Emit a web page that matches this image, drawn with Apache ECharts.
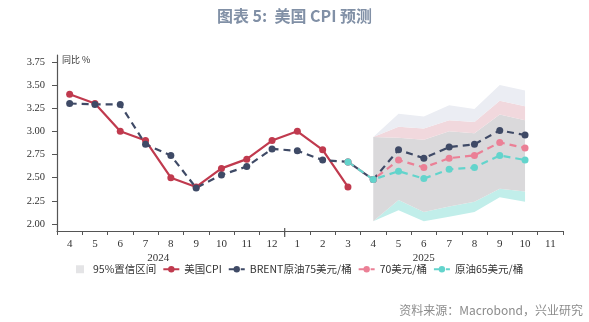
<!DOCTYPE html>
<html>
<head>
<meta charset="utf-8">
<script src="https://cdn.jsdelivr.net/npm/echarts@6/dist/echarts.min.js"></script>
<style>
  html, body { margin: 0; padding: 0; background: #fff; }
  #chart { width: 589px; height: 322px; }
</style>
</head>
<body>
<div id="chart"></div>
<script>
// Month labels: Apr 2024 .. Nov 2025
const months = ['4','5','6','7','8','9','10','11','12','1','2','3','4','5','6','7','8','9','10','11'];
const yTicks = [2.00, 2.25, 2.50, 2.75, 3.00, 3.25, 3.50, 3.75];

// Actual CPI YoY, Apr 2024 .. Mar 2025
const cpiActual = [3.4, 3.3, 3.0, 2.9, 2.5, 2.4, 2.6, 2.7, 2.9, 3.0, 2.8, 2.4];

// Model path with Brent at $75/bbl, Apr 2024 .. Oct 2025
const brent75 = [3.30, 3.29, 3.29, 2.86, 2.74, 2.39, 2.53, 2.62, 2.81, 2.79, 2.69, 2.67,
                 2.48, 2.80, 2.71, 2.83, 2.86, 3.01, 2.96];
// Scenarios at $70 and $65, Mar 2025 .. Oct 2025
const oil70 = [2.67, 2.48, 2.69, 2.61, 2.71, 2.74, 2.88, 2.82];
const oil65 = [2.67, 2.48, 2.57, 2.49, 2.59, 2.61, 2.74, 2.69];

// 95% confidence band edges, Apr 2025 .. Oct 2025
const bandTealLow = [2.03, 2.15, 2.03, 2.08, 2.13, 2.29, 2.24];
const bandGrayLow = [2.03, 2.26, 2.13, 2.19, 2.24, 2.38, 2.35];
const bandGrayTop = [2.94, 2.93, 2.91, 3.00, 2.98, 3.18, 3.12];
const bandPinkTop = [2.94, 3.05, 3.03, 3.12, 3.10, 3.33, 3.27];
const bandLavTop  = [2.94, 3.19, 3.16, 3.28, 3.24, 3.50, 3.44];

const BAND_START = 12;   // index of Apr 2025
const SCEN_START = 11;   // index of Mar 2025

function place(arr, start) {
  const out = months.map(() => '-');
  arr.forEach((v, i) => { out[start + i] = v; });
  return out;
}
function diff(a, b) { return a.map((v, i) => +(v - b[i]).toFixed(4)); }

const C_RED = '#c03a4e', C_NAVY = '#3f4a66', C_PINK = '#eb8096', C_TEAL = '#63d4cc';

function bandSeries(name, values, color) {
  return {
    name: name, type: 'line', stack: 'band', data: place(values, BAND_START),
    symbol: 'none', lineStyle: { width: 0 }, itemStyle: { color: color },
    areaStyle: color ? { color: color, opacity: 1 } : undefined,
    silent: true, z: 1
  };
}

function lineSeries(name, data, color, dashed) {
  return {
    name: name, type: 'line', data: data, color: color,
    symbol: 'circle', symbolSize: 7,
    lineStyle: { width: 2.2, color: color, type: dashed ? [7, 5] : 'solid' },
    itemStyle: { color: color },
    z: 5
  };
}

const chart = echarts.init(document.getElementById('chart'));
const baseFont = 'Liberation Serif';
const cjkFont = '"Noto Sans CJK SC", sans-serif';

chart.setOption({
  animation: false,
  title: {
    text: '图表 5:  美国 CPI 预测',
    left: 'center', top: 3,
    textStyle: { fontFamily: cjkFont, fontSize: 16, fontWeight: 'bold', color: '#8190a6' }
  },
  grid: { left: 57, right: 26, top: 55, bottom: 91, containLabel: false },
  legend: {
    left: 76, top: 264, padding: 0,
    itemWidth: 16, itemHeight: 8, itemGap: 6,
    textStyle: { fontFamily: cjkFont, fontSize: 10.5, color: '#333' },
    data: [
      { name: '95%置信区间', icon: 'path://M0,0h10v10h-10z', itemStyle: { color: '#e4e4e6' } },
      '美国CPI', 'BRENT原油75美元/桶', '70美元/桶', '原油65美元/桶'
    ]
  },
  xAxis: {
    type: 'category', data: months, boundaryGap: true,
    axisLine: { lineStyle: { color: '#555', width: 1.2 } },
    axisTick: { show: true, alignWithLabel: false, length: 4, lineStyle: { color: '#555' } },
    axisLabel: { fontFamily: baseFont, fontSize: 11, color: '#333', margin: 8, interval: 0 },
    splitLine: { show: false }
  },
  yAxis: {
    type: 'value', min: 1.925, max: 3.823,
    axisLine: { show: true, lineStyle: { color: '#555', width: 1.2 } },
    axisTick: { show: true, length: 5, customValues: yTicks, lineStyle: { color: '#555' } },
    axisLabel: {
      fontFamily: baseFont, fontSize: 10.5, color: '#333', margin: 12,
      customValues: yTicks, formatter: v => v.toFixed(2)
    },
    splitLine: { show: false }
  },
  series: [
    bandSeries('bandBase', bandTealLow, null),
    bandSeries('bandTeal', diff(bandGrayLow, bandTealLow), '#c1eeea'),
    bandSeries('95%置信区间', diff(bandGrayTop, bandGrayLow), '#dad9db'),
    bandSeries('bandPink', diff(bandPinkTop, bandGrayTop), '#f1d8dd'),
    bandSeries('bandLav', diff(bandLavTop, bandPinkTop), '#ebedf3'),
    lineSeries('美国CPI', place(cpiActual, 0), C_RED, false),
    lineSeries('BRENT原油75美元/桶', place(brent75, 0), C_NAVY, true),
    lineSeries('70美元/桶', place(oil70, SCEN_START), C_PINK, true),
    lineSeries('原油65美元/桶', place(oil65, SCEN_START), C_TEAL, true)
  ]
});

// Year labels, year divider tick and unit label placed via the axis scale
const px = i => chart.convertToPixel({ xAxisIndex: 0 }, i);
const axisY = chart.convertToPixel({ yAxisIndex: 0 }, 1.925);
const divX = (px(8) + px(9)) / 2;
chart.setOption({
  graphic: [
    { type: 'line', shape: { x1: divX, y1: axisY - 3, x2: divX, y2: axisY + 6 },
      style: { stroke: '#555', lineWidth: 1.2 }, silent: true },
    { type: 'text', x: (px(3) + px(4)) / 2, y: axisY + 27,
      style: { text: '2024', fontFamily: baseFont, fontSize: 11, fill: '#333', align: 'center', verticalAlign: 'middle' } },
    { type: 'text', x: (px(9) + px(19)) / 2, y: axisY + 27,
      style: { text: '2025', fontFamily: baseFont, fontSize: 11, fill: '#333', align: 'center', verticalAlign: 'middle' } },
    { type: 'text', x: 62, y: 60,
      style: { text: '同比 %', fontFamily: cjkFont, fontSize: 9, fill: '#333', verticalAlign: 'middle' } },
    { type: 'text', right: 6, top: 304,
      style: { text: '资料来源：Macrobond，兴业研究', fontFamily: cjkFont, fontSize: 12, fill: '#8c8c8c' } }
  ]
});
</script>
</body>
</html>
